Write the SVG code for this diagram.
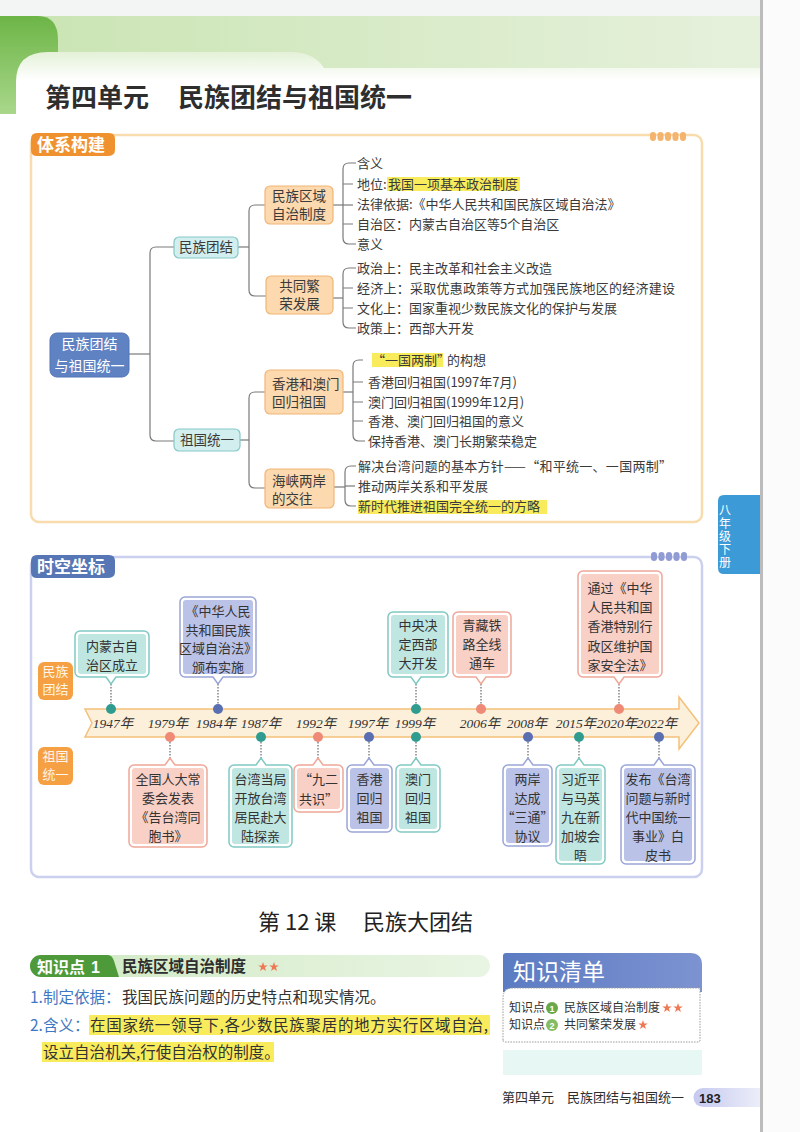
<svg xmlns="http://www.w3.org/2000/svg" width="800" height="1132" viewBox="0 0 800 1132">
<defs>
<linearGradient id="gband" x1="0" y1="0" x2="1" y2="0"><stop offset="0" stop-color="#c9e4b2"/><stop offset="1" stop-color="#e6f1dc"/></linearGradient>
<linearGradient id="gdark" x1="0" y1="0" x2="0" y2="1"><stop offset="0" stop-color="#6db547"/><stop offset="1" stop-color="#a9d78b"/></linearGradient>
<linearGradient id="gtab" x1="0" y1="52" x2="0" y2="80" gradientUnits="userSpaceOnUse"><stop offset="0" stop-color="#e4f1d8"/><stop offset="1" stop-color="#ffffff"/></linearGradient>
<linearGradient id="gkp" x1="0" y1="0" x2="1" y2="0"><stop offset="0" stop-color="#cfe9c3"/><stop offset="1" stop-color="#e9f5e3"/></linearGradient>
<linearGradient id="ghead" x1="0" y1="0" x2="1" y2="0"><stop offset="0" stop-color="#5b7bc2"/><stop offset="1" stop-color="#7d93d1"/></linearGradient>
<linearGradient id="gpage" x1="0" y1="0" x2="1" y2="0"><stop offset="0" stop-color="#c5c9ef"/><stop offset="1" stop-color="#ecedf9"/></linearGradient>
<path id="star" d="M0,-5 L1.18,-1.62 L4.76,-1.55 L1.9,0.62 L2.94,4.05 L0,2 L-2.94,4.05 L-1.9,0.62 L-4.76,-1.55 L-1.18,-1.62 Z" fill="#ee7a55"/>
</defs>
<style>
.cjk{font-family:"Noto Sans CJK SC",sans-serif;}
.leaf{font-family:"Noto Sans CJK SC",sans-serif;font-size:13px;fill:#3a3a3a;}
.box{font-family:"Noto Sans CJK SC",sans-serif;font-size:13.5px;fill:#3a3a3a;}
.ob{fill:#fcd9ae;stroke:#f1b677;stroke-width:1.2;}
.tb{fill:#d3eeee;stroke:#86c8c8;stroke-width:1.2;}
.ln{fill:none;stroke:#7a7a7a;stroke-width:1.2;}
.hl{fill:#f9ec5c;}
.yr{font-family:"Liberation Serif","Noto Sans CJK SC",serif;font-style:italic;font-size:13.5px;fill:#333;text-anchor:middle;}
.ct{font-family:"Noto Sans CJK SC",sans-serif;font-size:13px;fill:#333;text-anchor:middle;}
.cteal{fill:#ffffff;stroke:#80c9c2;stroke-width:1.5;}
.cblue{fill:#ffffff;stroke:#9aa5d8;stroke-width:1.5;}
.csal{fill:#ffffff;stroke:#f0a797;stroke-width:1.5;}
.iteal{fill:#bfe6e1;}
.iblue{fill:#bac2e7;}
.isal{fill:#f9d0c5;}
.dl{fill:none;stroke:#666;stroke-width:1.2;stroke-dasharray:1.5 1.5;}
.body{font-family:"Noto Sans CJK SC",sans-serif;font-size:15.5px;fill:#333;}
.blu{fill:#3f78c2;}
</style>
<rect width="800" height="1132" fill="#ffffff"/>
<!-- header -->
<rect x="0" y="0" width="760" height="16" fill="#f3f5f4"/>
<rect x="0" y="16" width="760" height="56" fill="url(#gband)"/>
<path d="M0,16 H38 Q58,16 58,40 V114 H0 Z" fill="url(#gdark)"/>
<path d="M16,114 V82 Q16,52 48,52 H290 Q314,52 324,68 H760 V140 H16 Z" fill="url(#gtab)"/>
<rect x="0" y="114" width="760" height="30" fill="#ffffff"/>
<text x="45" y="107" class="cjk" font-size="26" font-weight="bold" fill="#2e2e2e">第四单元</text>
<text x="178" y="107" class="cjk" font-size="26" font-weight="bold" fill="#2e2e2e">民族团结与祖国统一</text>
<rect x="760" y="0" width="3" height="1132" fill="#bcbcbc"/>
<rect x="763" y="0" width="37" height="1132" fill="#fbfbfb"/>
<!-- side tab -->
<g id="sidetab">
<path d="M760,495 H724 Q718,495 718,501 V568 Q718,574 724,574 H760 Z" fill="#3c9ad7"/>
<text x="725" y="504" class="cjk" font-size="12" fill="#ffffff" writing-mode="tb" letter-spacing="1.2">八年级下册</text>
</g>
<!-- section 1 frame -->
<g id="sec1">
<rect x="31" y="135" width="671" height="387" rx="8" fill="none" stroke="#f8dcae" stroke-width="2.5"/>
<path d="M37,133 H109 Q115,133 115,139 V150 Q115,156 107,156 H37 Q31,156 31,150 V139 Q31,133 37,133 Z" fill="#f0912f"/>
<text x="37" y="151" class="cjk" font-size="17" font-weight="bold" fill="#ffffff">体系构建</text>
<g fill="#f5b46e"><rect x="650" y="132" width="6" height="9" rx="3"/><rect x="657.5" y="132" width="6" height="9" rx="3"/><rect x="665" y="132" width="6" height="9" rx="3"/><rect x="672.5" y="132" width="6" height="9" rx="3"/><rect x="680" y="132" width="6" height="9" rx="3"/></g>
</g>
<!-- tree connectors -->
<g id="tree-connectors" class="ln">
<path d="M129,354 H150"/>
<path d="M174,247 H156 Q150,247 150,253 V435 Q150,441 156,441 H174"/>
<path d="M238,247 H249"/>
<path d="M265,205 H255 Q249,205 249,211 V290 Q249,296 255,296 H266"/>
<path d="M240,440 H249"/>
<path d="M265,392 H255 Q249,392 249,398 V482 Q249,488 255,488 H265"/>
<path d="M333,205 H353"/>
<path d="M356,163 H349 Q343,163 343,169 V238 Q343,244 349,244 H356"/>
<path d="M343,184 H353 M343,224 H353"/>
<path d="M333,298 H343"/>
<path d="M356,268 H349 Q343,268 343,274 V322 Q343,328 349,328 H356"/>
<path d="M343,288 H353 M343,308 H353"/>
<path d="M343,392 H353"/>
<path d="M363,360 H359 Q353,360 353,366 V435 Q353,441 359,441 H365"/>
<path d="M353,382 H363 M353,402 H363 M353,421 H363"/>
<path d="M334,487 H345"/>
<path d="M356,466 H351 Q345,466 345,472 V500 Q345,506 351,506 H356"/>
<path d="M345,486 H355"/>
</g>
<!-- tree nodes -->
<g id="root">
<rect x="50" y="333" width="79" height="44" rx="7" fill="#5f82c2" stroke="#5174b6" stroke-width="1"/>
<text class="cjk" font-size="14" fill="#ffffff" text-anchor="middle"><tspan x="89.5" y="349">民族团结</tspan><tspan x="89.5" y="371">与祖国统一</tspan></text>
</g>
<g id="n-mztj">
<rect x="174" y="237" width="64" height="21" rx="5" class="tb"/>
<text x="206" y="252" class="box" text-anchor="middle">民族团结</text>
</g>
<g id="n-zgty">
<rect x="174" y="429" width="66" height="22" rx="5" class="tb"/>
<text x="207" y="445" class="box" text-anchor="middle">祖国统一</text>
</g>
<g id="n-qyzz">
<rect x="265" y="186" width="68" height="38" rx="5" class="ob"/>
<text class="box"><tspan x="272" y="201">民族区域</tspan><tspan x="272" y="219">自治制度</tspan></text>
</g>
<g id="n-gtfr">
<rect x="266" y="276" width="67" height="38" rx="5" class="ob"/>
<text class="box" text-anchor="middle"><tspan x="299.5" y="291">共同繁</tspan><tspan x="299.5" y="309">荣发展</tspan></text>
</g>
<g id="n-gaam">
<rect x="265" y="370" width="78" height="44" rx="5" class="ob"/>
<text class="box" font-size="13.2"><tspan x="272" y="389">香港和澳门</tspan><tspan x="272" y="407">回归祖国</tspan></text>
</g>
<g id="n-hxla">
<rect x="265" y="469" width="69" height="39" rx="5" class="ob"/>
<text class="box"><tspan x="272" y="486">海峡两岸</tspan><tspan x="272" y="504">的交往</tspan></text>
</g>
<!-- leaves -->
<g id="leaves1">
<rect x="387" y="177" width="133" height="14" class="hl"/>
<text x="357" y="167.5" class="leaf">含义</text>
<text x="357" y="188.5" class="leaf">地位:</text>
<text x="388" y="188.5" class="leaf">我国一项基本政治制度</text>
<text x="357" y="208.5" class="leaf">法律依据:《中华人民共和国民族区域自治法》</text>
<text x="357" y="228.5" class="leaf">自治区：内蒙古自治区等5个自治区</text>
<text x="357" y="248.5" class="leaf">意义</text>
</g>
<g id="leaves2">
<text x="357" y="272.5" class="leaf">政治上：民主改革和社会主义改造</text>
<text x="357" y="292.5" class="leaf" textLength="318" lengthAdjust="spacing">经济上：采取优惠政策等方式加强民族地区的经济建设</text>
<text x="357" y="312.5" class="leaf">文化上：国家重视少数民族文化的保护与发展</text>
<text x="357" y="332.5" class="leaf">政策上：西部大开发</text>
</g>
<g id="leaves3">
<rect x="372" y="353" width="71" height="14" class="hl"/>
<text x="372" y="364.5" class="leaf">“一国两制”</text>
<text x="447" y="364.5" class="leaf">的构想</text>
<text x="368" y="386.5" class="leaf">香港回归祖国(1997年7月)</text>
<text x="368" y="406.5" class="leaf">澳门回归祖国(1999年12月)</text>
<text x="368" y="425.5" class="leaf">香港、澳门回归祖国的意义</text>
<text x="368" y="445.5" class="leaf">保持香港、澳门长期繁荣稳定</text>
</g>
<g id="leaves4">
<rect x="358" y="500" width="189" height="14" class="hl"/>
<text x="358" y="470.5" class="leaf" textLength="314" lengthAdjust="spacing">解决台湾问题的基本方针——“和平统一、一国两制”</text>
<text x="358" y="490.5" class="leaf">推动两岸关系和平发展</text>
<text x="358" y="510.5" class="leaf">新时代推进祖国完全统一的方略</text>
</g>
<!-- section 2 frame -->
<g id="sec2">
<rect x="31" y="557" width="671" height="320" rx="8" fill="none" stroke="#cbd0ef" stroke-width="2.5"/>
<path d="M37,555 H109 Q115,555 115,561 V572 Q115,578 107,578 H37 Q31,578 31,572 V561 Q31,555 37,555 Z" fill="#5676b5"/>
<text x="37" y="573" class="cjk" font-size="17" font-weight="bold" fill="#ffffff">时空坐标</text>
<g fill="#919cd5"><rect x="651" y="552" width="6" height="9" rx="3"/><rect x="658.5" y="552" width="6" height="9" rx="3"/><rect x="666" y="552" width="6" height="9" rx="3"/><rect x="673.5" y="552" width="6" height="9" rx="3"/><rect x="681" y="552" width="6" height="9" rx="3"/></g>
</g>
<g id="lab-mztj">
<rect x="38" y="662" width="35" height="38" rx="6" fill="#f5a043"/>
<text class="cjk" font-size="13" fill="#fff5e8" text-anchor="middle"><tspan x="55.5" y="676">民族</tspan><tspan x="55.5" y="694">团结</tspan></text>
</g>
<g id="lab-zgty">
<rect x="38" y="747" width="35" height="38" rx="6" fill="#f5a043"/>
<text class="cjk" font-size="13" fill="#fff5e8" text-anchor="middle"><tspan x="55.5" y="761">祖国</tspan><tspan x="55.5" y="779">统一</tspan></text>
</g>
<!-- timeline arrow -->
<g id="timeline">
<path d="M85,709 H679 V697 L699,723 L679,749 V737 H85 L92,723 Z" fill="#fdf0da" stroke="#f3c07a" stroke-width="1.5"/>
<text class="yr" x="113" y="728">1947年</text>
<text class="yr" x="168" y="728">1979年</text>
<text class="yr" x="216" y="728">1984年</text>
<text class="yr" x="261" y="728">1987年</text>
<text class="yr" x="316" y="728">1992年</text>
<text class="yr" x="368" y="728">1997年</text>
<text class="yr" x="415" y="728">1999年</text>
<text class="yr" x="480" y="728">2006年</text>
<text class="yr" x="527" y="728">2008年</text>
<text class="yr" x="576" y="728">2015年</text>
<text class="yr" x="617" y="728">2020年</text>
<text class="yr" x="657" y="728">2022年</text>
</g>
<!-- connectors (dotted leaders) -->
<g id="connectors">
<path class="dl" d="M111,684 V704 M218,684 V704 M416,684 V704 M481,684 V704 M619,684 V704"/>
<path class="dl" d="M170,742 V758 M261,742 V758 M318,742 V758 M369,742 V758 M416,742 V758 M528,742 V758 M579,742 V758 M659,742 V758"/>
</g>
<g id="dots">
<circle cx="111" cy="709" r="5" fill="#2f9c8f"/>
<circle cx="218" cy="709" r="5" fill="#5a6fb1"/>
<circle cx="416" cy="709" r="5" fill="#2f9c8f"/>
<circle cx="481" cy="709" r="5" fill="#ee8a76"/>
<circle cx="619" cy="709" r="5" fill="#ee8a76"/>
<circle cx="170" cy="737" r="5" fill="#ee8a76"/>
<circle cx="261" cy="737" r="5" fill="#2f9c8f"/>
<circle cx="318" cy="737" r="5" fill="#ee8a76"/>
<circle cx="369" cy="737" r="5" fill="#5a6fb1"/>
<circle cx="416" cy="737" r="5" fill="#2f9c8f"/>
<circle cx="528" cy="737" r="5" fill="#5a6fb1"/>
<circle cx="579" cy="737" r="5" fill="#2f9c8f"/>
<circle cx="659" cy="737" r="5" fill="#5a6fb1"/>
</g>
<!-- top callouts -->
<g id="e1947">
<path class="cteal" d="M80,631 H144 A5,5 0 0 1 149,636 V672 A5,5 0 0 1 144,677 H116 L111,684 L106,677 H80 A5,5 0 0 1 75,672 V636 A5,5 0 0 1 80,631 Z"/>
<rect x="78" y="634" width="68" height="40" rx="3" class="iteal"/>
<text class="ct"><tspan x="112" y="650.5">内蒙古自</tspan><tspan x="112" y="669.5">治区成立</tspan></text>
</g>
<g id="e1984">
<path class="cblue" d="M185,597 H251 A5,5 0 0 1 256,602 V672 A5,5 0 0 1 251,677 H223 L218,684 L213,677 H185 A5,5 0 0 1 180,672 V602 A5,5 0 0 1 185,597 Z"/>
<rect x="183" y="600" width="70" height="74" rx="3" class="iblue"/>
<text class="ct"><tspan x="218" y="616">《中华人民</tspan><tspan x="218" y="634.5">共和国民族</tspan><tspan x="218" y="653">区域自治法》</tspan><tspan x="218" y="671.5">颁布实施</tspan></text>
</g>
<g id="e1999a">
<path class="cteal" d="M393,612 H443 A5,5 0 0 1 448,617 V672 A5,5 0 0 1 443,677 H421 L416,684 L411,677 H393 A5,5 0 0 1 388,672 V617 A5,5 0 0 1 393,612 Z"/>
<rect x="391" y="615" width="54" height="59" rx="3" class="iteal"/>
<text class="ct"><tspan x="418" y="629.5">中央决</tspan><tspan x="418" y="648.5">定西部</tspan><tspan x="418" y="667.5">大开发</tspan></text>
</g>
<g id="e2006">
<path class="csal" d="M458,612 H506 A5,5 0 0 1 511,617 V672 A5,5 0 0 1 506,677 H486 L481,684 L476,677 H458 A5,5 0 0 1 453,672 V617 A5,5 0 0 1 458,612 Z"/>
<rect x="456" y="615" width="52" height="59" rx="3" class="isal"/>
<text class="ct"><tspan x="482" y="629.5">青藏铁</tspan><tspan x="482" y="648.5">路全线</tspan><tspan x="482" y="667.5">通车</tspan></text>
</g>
<g id="e2020">
<path class="csal" d="M583,571 H657 A5,5 0 0 1 662,576 V672 A5,5 0 0 1 657,677 H624 L619,684 L614,677 H583 A5,5 0 0 1 578,672 V576 A5,5 0 0 1 583,571 Z"/>
<rect x="581" y="574" width="78" height="100" rx="3" class="isal"/>
<text class="ct"><tspan x="620" y="592.5">通过《中华</tspan><tspan x="620" y="611.5">人民共和国</tspan><tspan x="620" y="631">香港特别行</tspan><tspan x="620" y="650.5">政区维护国</tspan><tspan x="620" y="669.5">家安全法》</tspan></text>
</g>
<!-- bottom callouts -->
<g id="e1979">
<path class="csal" d="M134,765 H165 L170,758 L175,765 H202 A5,5 0 0 1 207,770 V842 A5,5 0 0 1 202,847 H134 A5,5 0 0 1 129,842 V770 A5,5 0 0 1 134,765 Z"/>
<rect x="132" y="768" width="72" height="76" rx="3" class="isal"/>
<text class="ct"><tspan x="168" y="783.5">全国人大常</tspan><tspan x="168" y="802.5">委会发表</tspan><tspan x="168" y="821.5">《告台湾同</tspan><tspan x="168" y="840.5">胞书》</tspan></text>
</g>
<g id="e1987">
<path class="cteal" d="M234,765 H256 L261,758 L266,765 H287 A5,5 0 0 1 292,770 V842 A5,5 0 0 1 287,847 H234 A5,5 0 0 1 229,842 V770 A5,5 0 0 1 234,765 Z"/>
<rect x="232" y="768" width="57" height="76" rx="3" class="iteal"/>
<text class="ct"><tspan x="260.5" y="783.5">台湾当局</tspan><tspan x="260.5" y="802.5">开放台湾</tspan><tspan x="260.5" y="821.5">居民赴大</tspan><tspan x="260.5" y="840.5">陆探亲</tspan></text>
</g>
<g id="e1992">
<path class="csal" d="M299,765 H313 L318,758 L323,765 H338 A5,5 0 0 1 343,770 V807 A5,5 0 0 1 338,812 H299 A5,5 0 0 1 294,807 V770 A5,5 0 0 1 299,765 Z"/>
<rect x="297" y="768" width="43" height="41" rx="3" class="isal"/>
<text class="ct"><tspan x="318.5" y="783.5">“九二</tspan><tspan x="318.5" y="803.5">共识”</tspan></text>
</g>
<g id="e1997">
<path class="cblue" d="M352,765 H364 L369,758 L374,765 H387 A5,5 0 0 1 392,770 V827 A5,5 0 0 1 387,832 H352 A5,5 0 0 1 347,827 V770 A5,5 0 0 1 352,765 Z"/>
<rect x="350" y="768" width="39" height="61" rx="3" class="iblue"/>
<text class="ct"><tspan x="369.5" y="783.5">香港</tspan><tspan x="369.5" y="802.5">回归</tspan><tspan x="369.5" y="821.5">祖国</tspan></text>
</g>
<g id="e1999b">
<path class="cteal" d="M401,765 H411 L416,758 L421,765 H435 A5,5 0 0 1 440,770 V827 A5,5 0 0 1 435,832 H401 A5,5 0 0 1 396,827 V770 A5,5 0 0 1 401,765 Z"/>
<rect x="399" y="768" width="38" height="61" rx="3" class="iteal"/>
<text class="ct"><tspan x="418" y="783.5">澳门</tspan><tspan x="418" y="802.5">回归</tspan><tspan x="418" y="821.5">祖国</tspan></text>
</g>
<g id="e2008">
<path class="cblue" d="M508,765 H523 L528,758 L533,765 H547 A5,5 0 0 1 552,770 V841 A5,5 0 0 1 547,846 H508 A5,5 0 0 1 503,841 V770 A5,5 0 0 1 508,765 Z"/>
<rect x="506" y="768" width="43" height="75" rx="3" class="iblue"/>
<text class="ct"><tspan x="527.5" y="783.5">两岸</tspan><tspan x="527.5" y="802.5">达成</tspan><tspan x="527.5" y="821.5">“三通”</tspan><tspan x="527.5" y="840.5">协议</tspan></text>
</g>
<g id="e2015">
<path class="cteal" d="M561,765 H574 L579,758 L584,765 H600 A5,5 0 0 1 605,770 V859 A5,5 0 0 1 600,864 H561 A5,5 0 0 1 556,859 V770 A5,5 0 0 1 561,765 Z"/>
<rect x="559" y="768" width="43" height="93" rx="3" class="iteal"/>
<text class="ct"><tspan x="580.5" y="783.5">习近平</tspan><tspan x="580.5" y="802.5">与马英</tspan><tspan x="580.5" y="821.5">九在新</tspan><tspan x="580.5" y="840.5">加坡会</tspan><tspan x="580.5" y="859.5">晤</tspan></text>
</g>
<g id="e2022">
<path class="cblue" d="M626,765 H654 L659,758 L664,765 H690 A5,5 0 0 1 695,770 V859 A5,5 0 0 1 690,864 H626 A5,5 0 0 1 621,859 V770 A5,5 0 0 1 626,765 Z"/>
<rect x="624" y="768" width="68" height="93" rx="3" class="iblue"/>
<text class="ct"><tspan x="658" y="783.5">发布《台湾</tspan><tspan x="658" y="802.5">问题与新时</tspan><tspan x="658" y="821.5">代中国统一</tspan><tspan x="658" y="840.5">事业》白</tspan><tspan x="658" y="859.5">皮书</tspan></text>
</g>
<!-- lesson -->
<g id="lesson">
<text x="258" y="930" class="cjk" font-size="22" font-weight="400" fill="#222">第 12 课</text>
<text x="363" y="930" class="cjk" font-size="22" font-weight="400" fill="#222">民族大团结</text>
</g>
<g id="kp1">
<rect x="30" y="955" width="460" height="22" rx="11" fill="url(#gkp)"/>
<path d="M41,955 H108 Q112,955 114,961 L119,977 H41 A11,11 0 0 1 41,955 Z" fill="#4e9a3a"/>
<text x="37" y="972.5" class="cjk" font-size="16" font-weight="bold" fill="#ffffff">知识点</text>
<text x="91" y="972.5" font-family="Liberation Sans,sans-serif" font-size="16" font-weight="bold" fill="#ffffff">1</text>
<text x="122" y="972" class="cjk" font-size="15.5" font-weight="bold" fill="#2e2e2e">民族区域自治制度</text>
<use href="#star" x="263" y="967"/>
<use href="#star" x="274" y="967"/>
</g>
<g id="body">
<rect x="89" y="1015" width="401" height="20" class="hl"/>
<rect x="42" y="1042" width="232" height="20" class="hl"/>
<text x="30" y="1003" class="body blu">1.制定依据：</text>
<text x="122" y="1003" class="body">我国民族问题的历史特点和现实情况。</text>
<text x="30" y="1031" class="body blu">2.含义：</text>
<text x="90" y="1031" class="body" textLength="398" lengthAdjust="spacing">在国家统一领导下,各少数民族聚居的地方实行区域自治,</text>
<text x="43" y="1058" class="body">设立自治机关,行使自治权的制度。</text>
</g>
<g id="checklist">
<path d="M506,953 H690 Q702,953 702,965 V992 H503 V956 Q503,953 506,953 Z" fill="url(#ghead)"/>
<text x="513" y="980" class="cjk" font-size="23" fill="#ffffff">知识清单</text>
<path d="M503,1040 V998 Q503,988 513,988 H700 V1040 Q700,1042 698,1042 H505 Q503,1042 503,1040 Z" fill="#ffffff" stroke="#9a9a9a" stroke-width="1" stroke-dasharray="1.5 1.2"/>
<text x="509" y="1012" class="cjk" font-size="12" fill="#333">知识点</text>
<circle cx="552" cy="1008" r="6" fill="#69a84a"/>
<text x="552" y="1011.5" font-family="Liberation Sans,sans-serif" font-size="9" font-weight="bold" fill="#fff" text-anchor="middle">1</text>
<text x="564" y="1012" class="cjk" font-size="12" fill="#333">民族区域自治制度</text>
<use href="#star" x="667" y="1008"/>
<use href="#star" x="678" y="1008"/>
<text x="509" y="1029" class="cjk" font-size="12" fill="#333">知识点</text>
<circle cx="552" cy="1025" r="6" fill="#86bd62"/>
<text x="552" y="1028.5" font-family="Liberation Sans,sans-serif" font-size="9" font-weight="bold" fill="#fff" text-anchor="middle">2</text>
<text x="564" y="1029" class="cjk" font-size="12" fill="#333">共同繁荣发展</text>
<use href="#star" x="643" y="1025"/>
<rect x="503" y="1050" width="199" height="25" fill="#e6f7f4"/>
</g>
<g id="footer">
<text x="502" y="1102" class="cjk" font-size="13" fill="#2e2e2e">第四单元　民族团结与祖国统一</text>
<path d="M703,1088 H760 V1107 H703 A9.5,9.5 0 0 1 703,1088 Z" fill="url(#gpage)"/>
<text x="699" y="1102.5" font-family="Liberation Sans,sans-serif" font-size="13" font-weight="bold" fill="#222">183</text>
</g>
</svg>
